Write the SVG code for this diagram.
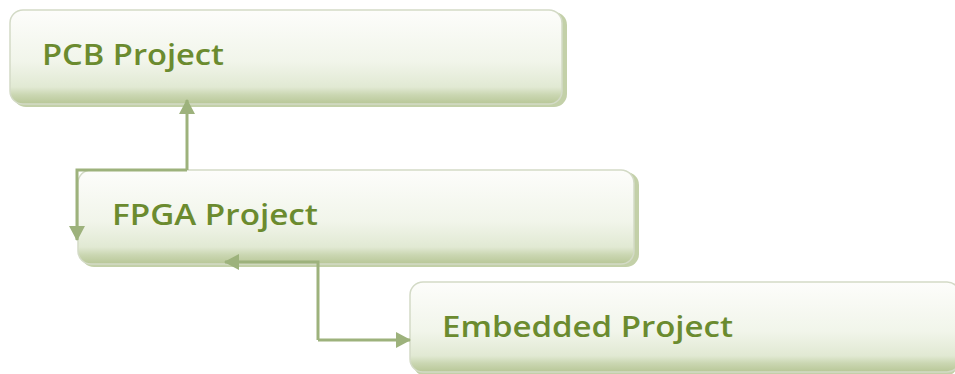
<svg xmlns="http://www.w3.org/2000/svg" width="955" height="374" viewBox="0 0 955 374">
  <defs>
    <linearGradient id="boxFill" x1="0" y1="0" x2="0" y2="1">
      <stop offset="0" stop-color="#fdfdfb"/>
      <stop offset="0.55" stop-color="#f1f5ea"/>
      <stop offset="0.82" stop-color="#e1e9d3"/>
      <stop offset="0.9" stop-color="#cbd7b3"/>
      <stop offset="1" stop-color="#b8c797"/>
    </linearGradient>
    <marker id="arrow" viewBox="0 0 15 16" refX="14" refY="8" markerWidth="15" markerHeight="16" markerUnits="userSpaceOnUse" orient="auto">
      <path d="M0,0 L15,8 L0,16 Z" fill="#9db27c"/>
    </marker>
  </defs>
  <style>
    .shadow { fill: #c3d0a8; }
    .box { fill: url(#boxFill); stroke: #d3dac6; stroke-width: 1.5; }
    .label { font-family: "Open Sans", "Liberation Sans", sans-serif; font-weight: 600; font-size: 28px; fill: #6b8b2f; }
    .link { fill: none; stroke: #9db27c; stroke-width: 3; marker-end: url(#arrow); }
  </style>
  <rect width="955" height="374" fill="#ffffff"/>

  <g id="pcb">
    <rect class="shadow" x="13" y="12" width="554" height="95" rx="13"/>
    <rect class="box" x="10" y="10" width="552" height="94" rx="13"/>
    <text class="label" x="42" y="65" textLength="182" lengthAdjust="spacingAndGlyphs">PCB Project</text>
  </g>

  <g id="fpga">
    <rect class="shadow" x="81" y="172" width="558" height="95" rx="13"/>
    <rect class="box" x="78" y="170" width="556" height="94" rx="13"/>
    <text class="label" x="112" y="225" textLength="206" lengthAdjust="spacingAndGlyphs">FPGA Project</text>
  </g>

  <g id="embedded">
    <rect class="shadow" x="413" y="284" width="545" height="92" rx="13"/>
    <rect class="box" x="410" y="282" width="550" height="90" rx="13"/>
    <text class="label" x="442" y="337" textLength="291" lengthAdjust="spacingAndGlyphs">Embedded Project</text>
  </g>

  <g id="connectors">
    <path class="link" d="M187,170 L187,100"/>
    <path class="link" d="M187,170 L77,170 L77,240"/>
    <path class="link" d="M318,340 L318,262 L225,262"/>
    <path class="link" d="M318,340 L410,340"/>
  </g>
</svg>
